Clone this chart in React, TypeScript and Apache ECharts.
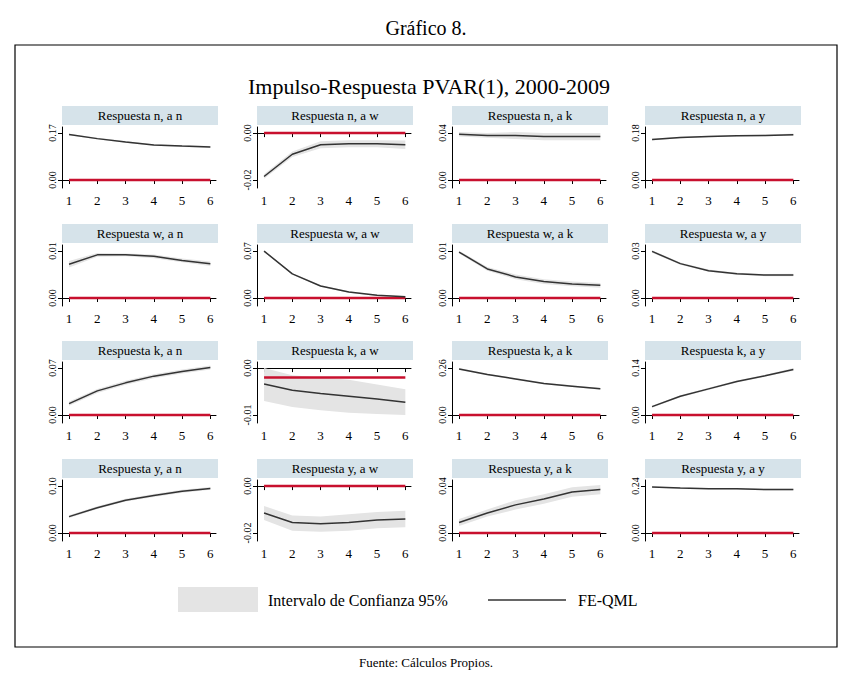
import React, { useEffect, useRef } from 'react';
import * as echarts from 'echarts';

const periods = [1, 2, 3, 4, 5, 6];

const panelTitles = [
  'Respuesta n, a n', 'Respuesta n, a w', 'Respuesta n, a k', 'Respuesta n, a y',
  'Respuesta w, a n', 'Respuesta w, a w', 'Respuesta w, a k', 'Respuesta w, a y',
  'Respuesta k, a n', 'Respuesta k, a w', 'Respuesta k, a k', 'Respuesta k, a y',
  'Respuesta y, a n', 'Respuesta y, a w', 'Respuesta y, a k', 'Respuesta y, a y',
];

// two labelled ticks per panel [low, high]
const tickPairs = [
  [0, 0.17], [-0.02, 0], [0, 0.04], [0, 0.18],
  [0, 0.01], [0, 0.07], [0, 0.01], [0, 0.03],
  [0, 0.07], [-0.01, 0], [0, 0.26], [0, 0.14],
  [0, 0.1], [-0.02, 0], [0, 0.04], [0, 0.24],
];

// level of the red reference line
const refLevels = [0, 0, 0, 0, 0, 0, 0, 0, 0, -0.002, 0, 0, 0, 0, 0, 0];

const fePoint = [
  [0.165, 0.15, 0.138, 0.127, 0.123, 0.12],
  [-0.0185, -0.009, -0.005, -0.0045, -0.0045, -0.005],
  [0.039, 0.038, 0.038, 0.037, 0.037, 0.037],
  [0.155, 0.163, 0.167, 0.17, 0.171, 0.174],
  [0.0072, 0.0092, 0.0092, 0.0089, 0.008, 0.0073],
  [0.07, 0.036, 0.018, 0.009, 0.004, 0.002],
  [0.0098, 0.0062, 0.0045, 0.0035, 0.003, 0.0027],
  [0.0298, 0.022, 0.0175, 0.0155, 0.0147, 0.0147],
  [0.017, 0.036, 0.048, 0.058, 0.065, 0.071],
  [-0.0034, -0.0047, -0.0054, -0.006, -0.0066, -0.0073],
  [0.255, 0.225, 0.2, 0.175, 0.16, 0.145],
  [0.025, 0.056, 0.078, 0.1, 0.117, 0.136],
  [0.035, 0.054, 0.07, 0.08, 0.089, 0.095],
  [-0.0115, -0.0155, -0.016, -0.0155, -0.0145, -0.014],
  [0.009, 0.017, 0.024, 0.029, 0.035, 0.037],
  [0.235, 0.23, 0.227, 0.226, 0.222, 0.222],
];

const bandLow = [
  [0.162, 0.147, 0.135, 0.124, 0.12, 0.117],
  [-0.0195, -0.0102, -0.0065, -0.006, -0.006, -0.0068],
  [0.037, 0.036, 0.035, 0.034, 0.034, 0.034],
  [0.152, 0.16, 0.164, 0.167, 0.168, 0.17],
  [0.0065, 0.0088, 0.0089, 0.0085, 0.0076, 0.0068],
  [0.069, 0.035, 0.017, 0.008, 0.003, 0.001],
  [0.0095, 0.0058, 0.004, 0.003, 0.0025, 0.0022],
  [0.029, 0.0213, 0.0168, 0.0148, 0.014, 0.0139],
  [0.014, 0.033, 0.045, 0.055, 0.062, 0.068],
  [-0.007, -0.0083, -0.009, -0.0095, -0.0098, -0.01],
  [0.25, 0.22, 0.195, 0.17, 0.155, 0.14],
  [0.022, 0.053, 0.075, 0.097, 0.114, 0.132],
  [0.032, 0.051, 0.067, 0.077, 0.086, 0.092],
  [-0.0145, -0.019, -0.0195, -0.019, -0.018, -0.0175],
  [0.006, 0.014, 0.02, 0.025, 0.031, 0.033],
  [0.232, 0.227, 0.224, 0.222, 0.218, 0.218],
];

const bandHigh = [
  [0.168, 0.153, 0.141, 0.13, 0.126, 0.123],
  [-0.0175, -0.0078, -0.0035, -0.003, -0.003, -0.0032],
  [0.041, 0.04, 0.041, 0.04, 0.04, 0.04],
  [0.158, 0.166, 0.17, 0.173, 0.174, 0.178],
  [0.0079, 0.0096, 0.0095, 0.0093, 0.0084, 0.0078],
  [0.071, 0.037, 0.019, 0.01, 0.005, 0.003],
  [0.0101, 0.0066, 0.005, 0.004, 0.0035, 0.0032],
  [0.0306, 0.0227, 0.0182, 0.0162, 0.0154, 0.0155],
  [0.02, 0.039, 0.051, 0.061, 0.068, 0.074],
  [0, -0.0015, -0.002, -0.0025, -0.0035, -0.0045],
  [0.26, 0.23, 0.205, 0.18, 0.165, 0.15],
  [0.028, 0.059, 0.081, 0.103, 0.12, 0.14],
  [0.038, 0.057, 0.073, 0.083, 0.092, 0.098],
  [-0.0085, -0.0125, -0.013, -0.012, -0.011, -0.0105],
  [0.012, 0.02, 0.028, 0.033, 0.039, 0.041],
  [0.238, 0.233, 0.23, 0.23, 0.226, 0.226],
];

const colLefts = [62, 257, 452, 645];
const rowTops = [127, 245, 362, 480];
const plotW = 154;
const plotH = 61;
const font = "'Liberation Serif', 'Times New Roman', serif";

const App: React.FC = () => {
  const chartRef = useRef<HTMLDivElement | null>(null);

  useEffect(() => {
    if (!chartRef.current) return;
    const chart = echarts.init(chartRef.current, undefined, { renderer: 'svg' });

    const grid: any[] = [];
    const xAxis: any[] = [];
    const yAxis: any[] = [];
    const series: any[] = [];
    const graphic: any[] = [
      { type: 'rect', shape: { x: 15, y: 45, width: 822, height: 602 }, style: { fill: 'none', stroke: '#000', lineWidth: 1.2 } },
    ];

    panelTitles.forEach((title, i) => {
      const left = colLefts[i % 4];
      const top = rowTops[Math.floor(i / 4)];
      const [lo, hi] = tickPairs[i];
      const span = hi - lo;
      grid.push({ left, top, width: plotW, height: plotH });
      xAxis.push({
        type: 'value', gridIndex: i, min: 0.75, max: 6.2,
        splitLine: { show: false },
        axisLine: { lineStyle: { color: '#000' } },
        axisTick: { customValues: periods, length: 4, lineStyle: { color: '#000' } },
        axisLabel: { customValues: periods, color: '#000', fontFamily: font, fontSize: 13, margin: 6 },
      });
      yAxis.push({
        type: 'value', gridIndex: i, min: lo - 0.17 * span, max: hi + 0.13 * span,
        splitLine: { show: false },
        axisLine: { show: true, lineStyle: { color: '#000' } },
        axisTick: { show: true, customValues: [lo, hi], length: 4, lineStyle: { color: '#000' } },
        axisLabel: {
          customValues: [lo, hi], color: '#000', fontFamily: font, fontSize: 10, rotate: 90, margin: 5,
          formatter: (v: number) => v.toFixed(2),
        },
      });
      graphic.push({
        type: 'rect', shape: { x: left, y: top - 21, width: plotW + 2, height: 19 },
        style: { fill: '#d6e3ea' },
      });
      graphic.push({
        type: 'text', x: left + plotW / 2 + 1, y: top - 11.5,
        style: { text: title, fill: '#000', font: `13px ${font}`, align: 'center', verticalAlign: 'middle' },
      });
      series.push({
        type: 'custom', xAxisIndex: i, yAxisIndex: i, silent: true,
        data: periods.map((p, k) => [p, bandLow[i][k], bandHigh[i][k]]),
        renderItem: (params: any, api: any) => {
          if (params.dataIndex !== 0) return null;
          const upper = periods.map((p, k) => api.coord([p, bandHigh[i][k]]));
          const lower = periods.map((p, k) => api.coord([p, bandLow[i][k]])).reverse();
          return { type: 'polygon', shape: { points: upper.concat(lower) }, style: { fill: '#e4e4e4' } };
        },
      });
      series.push({
        type: 'line', xAxisIndex: i, yAxisIndex: i, symbol: 'none',
        data: [[1, refLevels[i]], [6, refLevels[i]]],
        lineStyle: { color: '#c8102e', width: 2.5 },
      });
      series.push({
        type: 'line', xAxisIndex: i, yAxisIndex: i, symbol: 'none',
        data: periods.map((p, k) => [p, fePoint[i][k]]),
        lineStyle: { color: '#333', width: 1.5 },
      });
    });

    graphic.push(
      { type: 'rect', shape: { x: 178, y: 587, width: 80, height: 25 }, style: { fill: '#e4e4e4' } },
      { type: 'text', x: 268, y: 600, style: { text: 'Intervalo de Confianza 95%', fill: '#000', font: `16px ${font}`, verticalAlign: 'middle' } },
      { type: 'line', shape: { x1: 488, y1: 600, x2: 566, y2: 600 }, style: { stroke: '#333', lineWidth: 1.5 } },
      { type: 'text', x: 578, y: 600, style: { text: 'FE-QML', fill: '#000', font: `16px ${font}`, verticalAlign: 'middle' } },
      { type: 'text', x: 426, y: 28, style: { text: 'Gráfico 8.', fill: '#000', font: `20px ${font}`, align: 'center', verticalAlign: 'middle' } },
      { type: 'text', x: 426, y: 662, style: { text: 'Fuente: Cálculos Propios.', fill: '#000', font: `13px ${font}`, align: 'center', verticalAlign: 'middle' } },
    );

    chart.setOption({
      animation: false,
      backgroundColor: '#fff',
      title: {
        text: 'Impulso-Respuesta PVAR(1), 2000-2009', left: 'center', top: 70,
        textStyle: { fontFamily: font, fontSize: 22, fontWeight: 'normal', color: '#000' },
      },
      grid, xAxis, yAxis, series, graphic,
    });

    return () => chart.dispose();
  }, []);

  return <div ref={chartRef} style={{ position: 'fixed', left: 0, top: 0, width: 858, height: 691 }} />;
};

export default App;
